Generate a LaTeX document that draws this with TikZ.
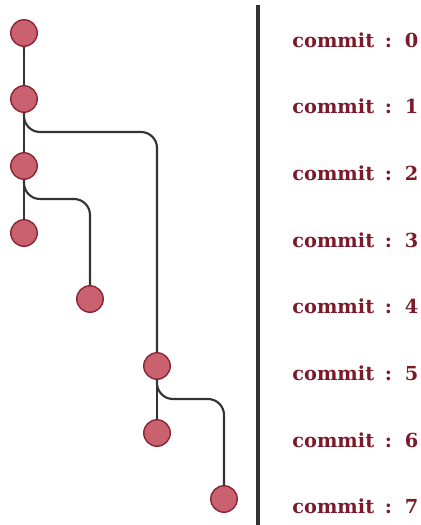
\documentclass[tikz,border=0pt]{standalone}
\usepackage{fontspec}
\setmainfont{DejaVu Serif}
\definecolor{commitfill}{HTML}{C9616F}
\definecolor{commitdraw}{HTML}{8B2535}
\definecolor{branchline}{HTML}{333333}
\definecolor{labeltext}{HTML}{7A1A2A}
\newcommand{\commitfont}{\bfseries\fontsize{11}{13}\selectfont\spaceskip=0.55em plus 0pt minus 0pt\relax}
\begin{document}
\begin{tikzpicture}[x=0.02cm,y=-0.02cm,
  commit/.style={circle,draw=commitdraw,fill=commitfill,line width=0.8pt,minimum size=0.53cm,inner sep=0pt},
  branch/.style={draw=branchline,line width=1.2pt,rounded corners=0.32cm},
  label/.style={anchor=west,text=labeltext,font=\commitfont,inner sep=0pt}]
  \useasboundingbox (0,0) rectangle (421,525);
  % commits
  \node[commit] (c0) at (24,33) {};
  \node[commit] (c1) at (24,99) {};
  \node[commit] (c2) at (24,166) {};
  \node[commit] (c3) at (24,233) {};
  \node[commit] (c4) at (90,299) {};
  \node[commit] (c5) at (157,366) {};
  \node[commit] (c6) at (157,433) {};
  \node[commit] (c7) at (224,499) {};
  % branches
  \draw[branch] (c0) -- (c1);
  \draw[branch] (c1) -- (c2);
  \draw[branch] (c2) -- (c3);
  \draw[branch] (c1.south) |- (90,132) -| (c5.north);
  \draw[branch] (c2.south) |- (60,199) -| (c4.north);
  \draw[branch] (c5) -- (c6);
  \draw[branch] (c5.south) |- (190,399) -| (c7.north);
  % divider
  \coordinate (top) at (258,5);
  \coordinate (bottom) at (258,525);
  \draw[branchline,line width=2pt] (top) -- (bottom);
  % labels
  \node[label] (l0) at (292,40) {commit : 0};
  \node[label] (l1) at (292,106) {commit : 1};
  \node[label] (l2) at (292,173) {commit : 2};
  \node[label] (l3) at (292,240) {commit : 3};
  \node[label] (l4) at (292,306) {commit : 4};
  \node[label] (l5) at (292,373) {commit : 5};
  \node[label] (l6) at (292,440) {commit : 6};
  \node[label] (l7) at (292,506) {commit : 7};
\end{tikzpicture}
\end{document}
